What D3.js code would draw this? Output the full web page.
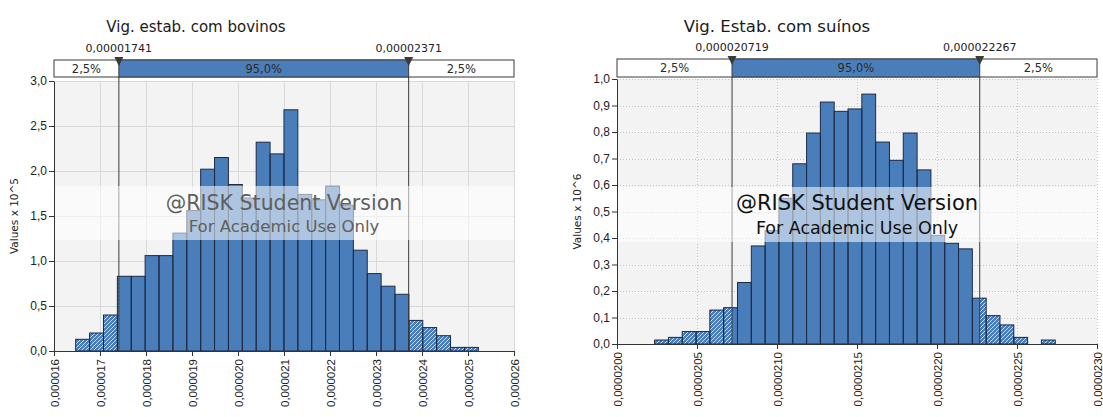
<!DOCTYPE html>
<html>
<head>
<meta charset="utf-8">
<script src="https://cdn.jsdelivr.net/npm/d3@7/dist/d3.min.js"></script>
<style>
  html, body { margin: 0; padding: 0; background: #ffffff; }
  svg { display: block; font-family: "DejaVu Sans", Verdana, sans-serif; }
</style>
</head>
<body>
<svg id="chart" width="1103" height="417"></svg>
<script>
// ---- Vig. estab. com bovinos ----
const bovinosTitle = "Vig. estab. com bovinos";
const bovinosAxisTitle = "Values x 10^5";
// bar heights (density, values x 10^5), one per bin
const bovinosDensity = [0.13, 0.20, 0.40, 0.83, 0.83, 1.06, 1.06, 1.31, 1.56, 2.02,
                        2.15, 1.85, 1.70, 2.32, 2.19, 2.68, 1.74, 1.68, 1.83, 1.62,
                        1.12, 0.86, 0.72, 0.63, 0.34, 0.26, 0.17, 0.04, 0.04];
const bovinosBinRange = [0.000016472, 0.000025224];
const bovinosDelimiters = [0.00001741, 0.00002371];
const bovinosXTicks = [0.000016, 0.000017, 0.000018, 0.000019, 0.000020, 0.000021,
                       0.000022, 0.000023, 0.000024, 0.000025, 0.000026];
const bovinosYTicks = [0, 0.5, 1.0, 1.5, 2.0, 2.5, 3.0];

// ---- Vig. Estab. com suínos ----
const suinosTitle = "Vig. Estab. com suínos";
const suinosAxisTitle = "Values x 10^6";
// bar heights (density, values x 10^6), one per bin
const suinosDensity = [0.015, 0.025, 0.047, 0.047, 0.128, 0.137, 0.232, 0.370, 0.428, 0.55,
                       0.68, 0.796, 0.913, 0.878, 0.887, 0.943, 0.762, 0.693, 0.796, 0.657,
                       0.41, 0.38, 0.359, 0.173, 0.107, 0.072, 0.025, 0, 0.015];
const suinosBinRange = [0.000020235, 0.000022739];
const suinosDelimiters = [0.000020719, 0.000022267];
const suinosXTicks = [0.0000200, 0.0000205, 0.0000210, 0.0000215, 0.0000220, 0.0000225, 0.0000230];
const suinosYTicks = [0, 0.1, 0.2, 0.3, 0.4, 0.5, 0.6, 0.7, 0.8, 0.9, 1.0];

const tailShares = ["2,5%", "95,0%", "2,5%"];
const watermarkLines = ["@RISK Student Version", "For Academic Use Only"];

// Portuguese number formatting (decimal comma)
const pt = d3.formatLocale({ decimal: ",", thousands: ".", grouping: [3], currency: ["R$", ""] });

const BAR_FILL = "#4a7ebb";
const BAR_STROKE = "#1d2b45";

const svg = d3.select("#chart");
const defs = svg.append("defs");

// diagonal hatching for the tails outside the 95% interval
const hatch = defs.append("pattern")
  .attr("id", "hatch")
  .attr("patternUnits", "userSpaceOnUse")
  .attr("width", 4).attr("height", 4);
hatch.append("rect").attr("width", 4).attr("height", 4).attr("fill", BAR_FILL);
hatch.append("path")
  .attr("d", "M-1,1 l2,-2 M0,4 l4,-4 M3,5 l2,-2")
  .attr("stroke", "#c9d8ee").attr("stroke-width", 1);

function drawHistogram(cfg) {
  const { id, title, axisTitle, density, binRange, delimiters, xTicks, yTicks,
          xFormat, delimFormat, box, grid, titleSize, titleX, mark } = cfg;

  const g = svg.append("g").attr("class", "histogram-" + id);

  const x = d3.scaleLinear()
    .domain([xTicks[0], xTicks[xTicks.length - 1]])
    .range([box.left, box.right]);
  const y = d3.scaleLinear()
    .domain([yTicks[0], yTicks[yTicks.length - 1]])
    .range([box.bottom, box.top]);

  // plot background
  g.append("rect")
    .attr("x", box.left).attr("y", box.top)
    .attr("width", box.right - box.left).attr("height", box.bottom - box.top)
    .attr("fill", "#f3f3f3");

  // grid
  const gridG = g.append("g")
    .attr("stroke", grid.color)
    .attr("stroke-width", 1)
    .attr("stroke-dasharray", grid.dash);
  gridG.selectAll("line.h").data(yTicks.slice(1)).join("line")
    .attr("class", "h")
    .attr("x1", box.left).attr("x2", box.right)
    .attr("y1", d => Math.round(y(d)) + 0.5).attr("y2", d => Math.round(y(d)) + 0.5);
  gridG.selectAll("line.v").data(xTicks.slice(1)).join("line")
    .attr("class", "v")
    .attr("y1", box.top).attr("y2", box.bottom)
    .attr("x1", d => Math.round(x(d)) + 0.5).attr("x2", d => Math.round(x(d)) + 0.5);

  // histogram bins
  const n = density.length;
  const step = (binRange[1] - binRange[0]) / n;
  const bins = density.map((v, i) => ({ x0: binRange[0] + i * step, x1: binRange[0] + (i + 1) * step, v }));
  const filled = bins.filter(b => b.v > 0);

  g.append("g").selectAll("rect").data(filled).join("rect")
    .attr("x", d => x(d.x0))
    .attr("width", d => x(d.x1) - x(d.x0))
    .attr("y", d => y(d.v))
    .attr("height", d => y(0) - y(d.v))
    .attr("fill", BAR_FILL);

  // hatched tails, clipped at the delimiters
  const clipId = "tails-" + id;
  const clip = defs.append("clipPath").attr("id", clipId);
  clip.append("rect").attr("x", box.left).attr("y", box.top)
    .attr("width", x(delimiters[0]) - box.left).attr("height", box.bottom - box.top);
  clip.append("rect").attr("x", x(delimiters[1])).attr("y", box.top)
    .attr("width", box.right - x(delimiters[1])).attr("height", box.bottom - box.top);
  g.append("g").attr("clip-path", `url(#${clipId})`)
    .selectAll("rect").data(filled).join("rect")
    .attr("x", d => x(d.x0))
    .attr("width", d => x(d.x1) - x(d.x0))
    .attr("y", d => y(d.v))
    .attr("height", d => y(0) - y(d.v))
    .attr("fill", "url(#hatch)");

  // bar outlines
  g.append("g").selectAll("rect").data(filled).join("rect")
    .attr("x", d => x(d.x0))
    .attr("width", d => x(d.x1) - x(d.x0))
    .attr("y", d => y(d.v))
    .attr("height", d => y(0) - y(d.v))
    .attr("fill", "none")
    .attr("stroke", BAR_STROKE)
    .attr("stroke-width", 1);

  // delimiter lines through the plot
  g.append("g").selectAll("line").data(delimiters).join("line")
    .attr("x1", d => x(d)).attr("x2", d => x(d))
    .attr("y1", box.headerTop).attr("y2", box.bottom)
    .attr("stroke", "#3a3a3a").attr("stroke-width", 1);

  // watermark band
  g.append("rect")
    .attr("x", box.left).attr("width", box.right - box.left)
    .attr("y", mark.bandTop).attr("height", mark.bandBottom - mark.bandTop)
    .attr("fill", "#ffffff").attr("opacity", 0.55);
  const cx = (box.left + box.right) / 2;
  g.append("text")
    .attr("x", cx).attr("y", mark.y1)
    .attr("text-anchor", "middle")
    .attr("font-size", mark.size1)
    .attr("fill", mark.color)
    .text(watermarkLines[0]);
  g.append("text")
    .attr("x", cx).attr("y", mark.y2)
    .attr("text-anchor", "middle")
    .attr("font-size", mark.size2)
    .attr("fill", mark.color)
    .text(watermarkLines[1]);

  // axes
  const xAxis = d3.axisBottom(x).tickValues(xTicks).tickFormat(pt.format(xFormat)).tickSize(5).tickSizeOuter(0);
  const xa = g.append("g").attr("transform", `translate(0,${box.bottom})`).call(xAxis);
  xa.select(".domain").attr("stroke", "#333");
  xa.selectAll(".tick line").attr("stroke", "#333");
  xa.selectAll(".tick text")
    .attr("font-size", 11.5)
    .attr("fill", "#222")
    .attr("text-anchor", "end")
    .attr("transform", "rotate(-90)")
    .attr("x", -8).attr("y", 0).attr("dy", "0.35em");

  const yAxis = d3.axisLeft(y).tickValues(yTicks).tickFormat(pt.format(".1f")).tickSize(5).tickSizeOuter(0);
  const ya = g.append("g").attr("transform", `translate(${box.left},0)`).call(yAxis);
  ya.select(".domain").attr("stroke", "#333");
  ya.selectAll(".tick line").attr("stroke", "#333");
  ya.selectAll(".tick text").attr("font-size", 12).attr("fill", "#222").attr("x", -7);

  // y axis title
  g.append("text")
    .attr("transform", `translate(${box.left - 36},${(box.top + box.bottom) / 2}) rotate(-90)`)
    .attr("text-anchor", "middle")
    .attr("font-size", 10.5)
    .attr("fill", "#222")
    .text(axisTitle);

  // percentile strip above the plot
  const hTop = box.headerTop, hBot = box.headerBottom;
  const xd0 = x(delimiters[0]), xd1 = x(delimiters[1]);
  g.append("rect").attr("x", box.left).attr("y", hTop)
    .attr("width", box.right - box.left).attr("height", hBot - hTop)
    .attr("fill", "#ffffff").attr("stroke", "#3a3a3a").attr("stroke-width", 1);
  g.append("rect").attr("x", xd0).attr("y", hTop)
    .attr("width", xd1 - xd0).attr("height", hBot - hTop)
    .attr("fill", BAR_FILL).attr("stroke", "#3a3a3a").attr("stroke-width", 1);
  const sections = [[box.left, xd0], [xd0, xd1], [xd1, box.right]];
  g.append("g").selectAll("text").data(sections).join("text")
    .attr("x", d => (d[0] + d[1]) / 2)
    .attr("y", (hTop + hBot) / 2)
    .attr("dy", "0.36em")
    .attr("text-anchor", "middle")
    .attr("font-size", 11.5)
    .attr("fill", "#2a2a2a")
    .text((d, i) => tailShares[i]);

  // delimiter markers and their values
  g.append("g").selectAll("path").data(delimiters).join("path")
    .attr("d", d => `M${x(d) - 4.5},${hTop - 3} L${x(d) + 4.5},${hTop - 3} L${x(d)},${hTop + 6} Z`)
    .attr("fill", "#3a3a3a");
  g.append("g").selectAll("text").data(delimiters).join("text")
    .attr("x", d => x(d))
    .attr("y", hTop - 8)
    .attr("text-anchor", "middle")
    .attr("font-size", 11)
    .attr("fill", "#222")
    .text(d => pt.format(delimFormat)(d));

  // chart title
  g.append("text")
    .attr("x", titleX).attr("y", 32)
    .attr("text-anchor", "middle")
    .attr("font-size", titleSize)
    .attr("fill", "#1a1a1a")
    .text(title);
}

drawHistogram({
  id: "bovinos",
  title: bovinosTitle, axisTitle: bovinosAxisTitle,
  density: bovinosDensity, binRange: bovinosBinRange, delimiters: bovinosDelimiters,
  xTicks: bovinosXTicks, yTicks: bovinosYTicks,
  xFormat: ".6f", delimFormat: ".8f",
  box: { left: 54, right: 514, top: 81, bottom: 351, headerTop: 60, headerBottom: 77 },
  grid: { color: "#d9d9d9", dash: null },
  titleSize: 15, titleX: 196,
  mark: { bandTop: 186, bandBottom: 240, y1: 210, y2: 232, size1: 20.5, size2: 16.5, color: "#5f5f5f" }
});

drawHistogram({
  id: "suinos",
  title: suinosTitle, axisTitle: suinosAxisTitle,
  density: suinosDensity, binRange: suinosBinRange, delimiters: suinosDelimiters,
  xTicks: suinosXTicks, yTicks: suinosYTicks,
  xFormat: ".7f", delimFormat: ".9f",
  box: { left: 617, right: 1097, top: 79, bottom: 344, headerTop: 59, headerBottom: 77 },
  grid: { color: "#c4c4c4", dash: "1,2" },
  titleSize: 16.5, titleX: 777,
  mark: { bandTop: 187, bandBottom: 242, y1: 210, y2: 234, size1: 21, size2: 17.5, color: "#111111" }
});
</script>
</body>
</html>
